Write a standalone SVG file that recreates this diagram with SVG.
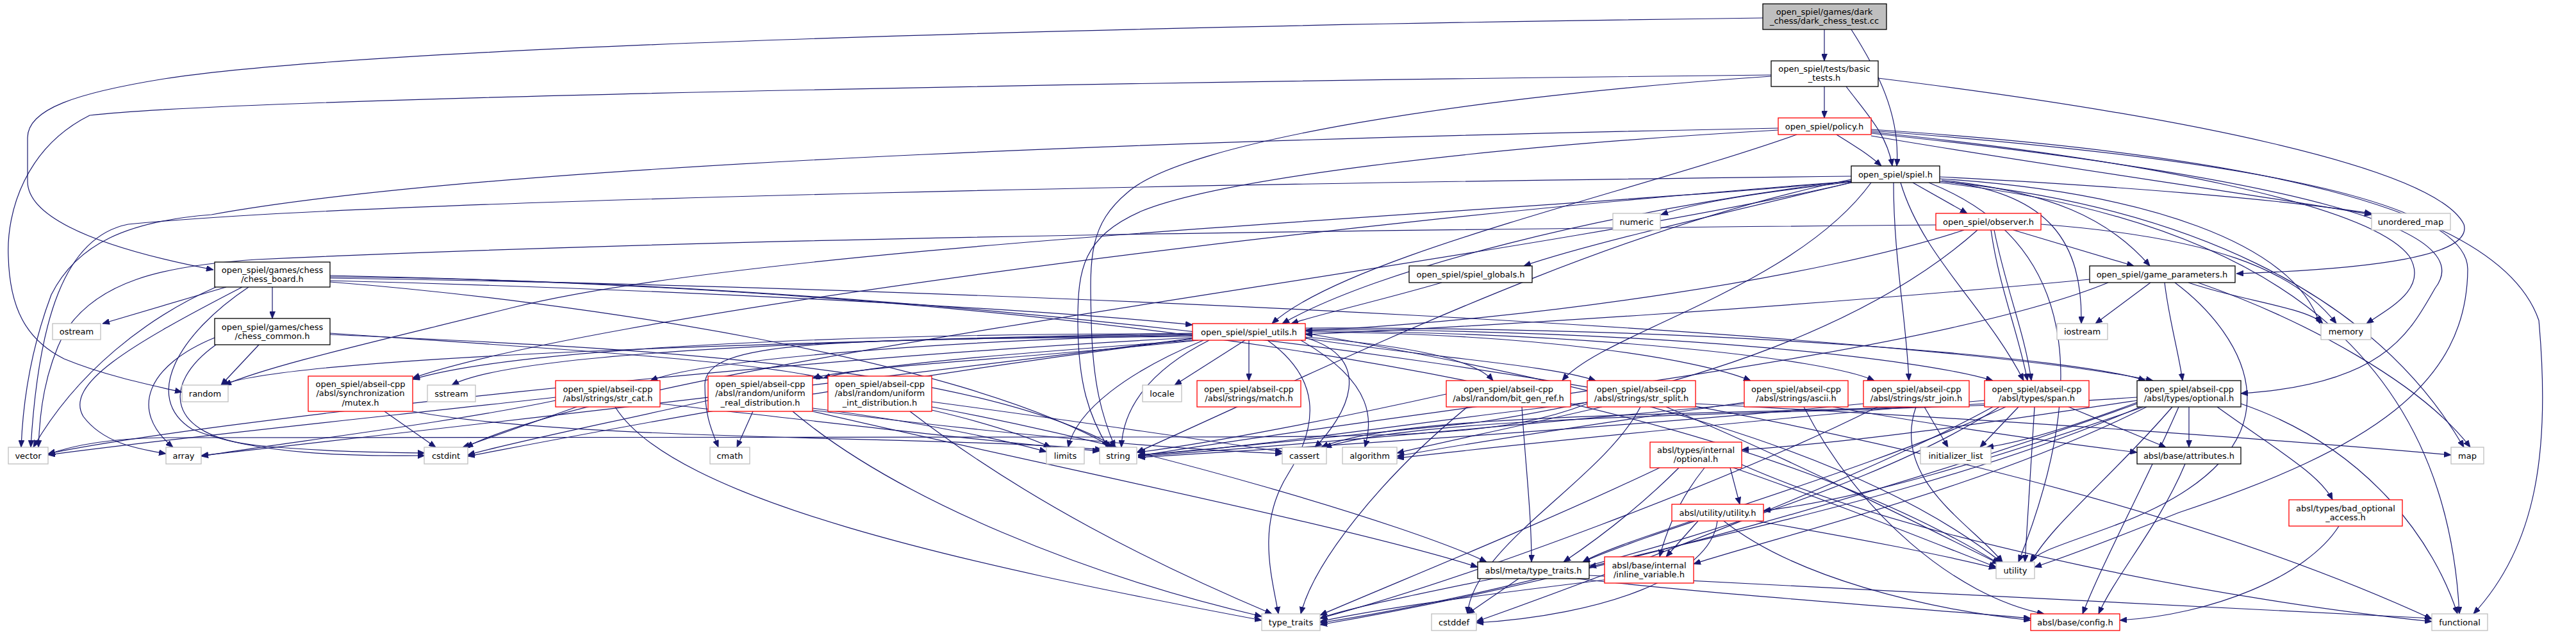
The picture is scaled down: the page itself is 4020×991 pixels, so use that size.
<svg xmlns="http://www.w3.org/2000/svg" width="4020" height="991" viewBox="0 0 4020 991">
<style>
text{font-family:"DejaVu Sans",sans-serif;font-size:13px;text-anchor:middle;fill:#000}
rect{fill:#fff;stroke-width:1.3}
.k{stroke:#000}
.r{stroke:#ff0000}
.g{stroke:#bfbfbf}
.f{stroke:#000;fill:#bfbfbf}
#edges path{fill:none;stroke:#191970;stroke-width:1.2;marker-end:url(#a)}
</style>
<defs>
<marker id="a" markerWidth="11" markerHeight="9" refX="11" refY="4.5" orient="auto" markerUnits="userSpaceOnUse"><path d="M0,0 L11,4.5 L0,9 z" fill="#191970" stroke="#191970" stroke-width="0.8"/></marker>
</defs>
<rect x="0" y="0" width="4020" height="991" fill="#fff" style="stroke:none"/>
<g id="edges">
<path d="M2847 46 L2847 95"/>
<path d="M2889 46 C2930 110 2966 180 2960 259"/>
<path d="M2751 28 C1800 40 600 70 256 123 C120 145 43 170 43 215 L43 283 C43 330 120 380 333 421"/>
<path d="M2847 135 L2847 184"/>
<path d="M2881 135 C2915 180 2945 210 2953 259"/>
<path d="M2931 122 C3400 180 3800 260 3845 350 C3860 400 3700 420 3490 427"/>
<path d="M2764 117 C2000 125 400 150 140 180 C40 230 10 330 13 400 C15 480 40 530 100 560 C160 585 230 600 284 612"/>
<path d="M2764 119 C2300 150 1850 220 1760 300 C1700 350 1700 400 1703 500 C1705 600 1720 650 1740 698"/>
<path d="M2866 210 C2890 225 2915 240 2936 259"/>
<path d="M2775 200 C2000 215 800 250 330 335 C200 345 120 380 80 460 C50 540 36 620 33 698"/>
<path d="M2775 203 C2300 230 1900 280 1780 330 C1690 370 1682 420 1682 500 C1682 600 1700 650 1729 698"/>
<path d="M2804 210 C2550 300 2100 400 1985 505"/>
<path d="M2920 212 C3200 260 3500 300 3701 335"/>
<path d="M2920 206 C3350 250 3700 320 3760 400 C3790 450 3730 480 3693 505"/>
<path d="M2920 208 C3600 280 3870 360 3800 450 C3760 520 3720 600 3497 614"/>
<path d="M2920 202 C3500 240 3900 320 3962 500 C3980 700 3960 850 3860 958"/>
<path d="M2920 204 C3400 240 3850 300 3851 420 C3850 600 3700 700 3400 800 C3300 840 3220 870 3175 885"/>
<path d="M2985 285 L3070 333"/>
<path d="M3027 276 C3300 290 3550 310 3701 333"/>
<path d="M3030 281 C3200 300 3290 340 3355 415"/>
<path d="M2889 284 C2750 300 2650 315 2592 335"/>
<path d="M2889 285 C2700 330 2480 380 2378 415"/>
<path d="M2889 282 C2500 330 2150 420 2001 505"/>
<path d="M3030 283 C3200 300 3250 380 3248 505"/>
<path d="M3027 279 C3350 300 3580 380 3620 505"/>
<path d="M3027 283 C3400 320 3700 450 3845 698"/>
<path d="M3027 285 C3600 350 3820 600 3838 958"/>
<path d="M3010 285 C3300 400 3220 700 3150 877"/>
<path d="M2889 280 C2500 360 2100 560 1774 706"/>
<path d="M2889 275 C2000 285 600 310 200 350 C100 370 60 500 48 698"/>
<path d="M2889 283 C2400 330 1200 380 800 480 C600 530 420 570 350 601"/>
<path d="M2889 285 C2300 420 1000 560 727 698"/>
<path d="M2920 285 C2800 450 2500 520 2438 594"/>
<path d="M2955 285 C2955 400 2975 500 2979 594"/>
<path d="M2889 283 C2000 350 900 500 644 590"/>
<path d="M2966 285 C3000 400 3100 480 3158 594"/>
<path d="M3142 359 L3330 415"/>
<path d="M3021 351 C2200 358 1200 368 400 405 C250 415 150 440 100 520 C70 580 62 640 60 698"/>
<path d="M3065 359 C2850 430 2400 500 2037 516"/>
<path d="M3086 359 C2950 480 2700 600 2300 660 C2000 690 1850 705 1776 710"/>
<path d="M3107 359 C3120 450 3150 520 3164 594"/>
<path d="M3112 359 C3130 450 3160 520 3170 594"/>
<path d="M3185 350 C3450 370 3580 420 3646 505"/>
<path d="M3261 436 C2800 480 2300 510 2037 522"/>
<path d="M3356 441 L3270 505"/>
<path d="M3415 441 C3500 470 3600 480 3625 505"/>
<path d="M3430 441 C3600 500 3780 600 3855 698"/>
<path d="M3378 441 C3385 500 3400 550 3406 594"/>
<path d="M3394 441 C3500 520 3620 700 3300 820 C3220 850 3180 860 3168 877"/>
<path d="M3290 441 C3000 560 2200 640 1776 712"/>
<path d="M2250 441 C2150 470 2060 490 2015 505"/>
<path d="M1943 531 L1833 601"/>
<path d="M1949 531 L1949 594"/>
<path d="M1878 531 C1760 580 1680 640 1667 698"/>
<path d="M1887 531 C1790 580 1752 640 1750 698"/>
<path d="M1978 531 C2060 590 2060 660 2010 740 C1960 820 1985 900 1995 958"/>
<path d="M2037 527 C2150 560 2100 650 2052 698"/>
<path d="M1861 520 C1300 530 800 550 705 601"/>
<path d="M1861 522 C1100 535 450 560 345 601"/>
<path d="M1861 527 C1200 560 300 660 75 708"/>
<path d="M1861 528 C1300 600 500 690 314 711"/>
<path d="M1861 529 C1300 600 900 680 730 712"/>
<path d="M1861 525 C1300 530 1100 530 1100 600 C1100 650 1110 670 1121 698"/>
<path d="M1861 521 C1300 520 800 545 644 592"/>
<path d="M1861 523 C1500 530 1100 560 1015 594"/>
<path d="M1870 531 C1600 560 1350 570 1268 590"/>
<path d="M1866 531 C1600 550 1350 570 1285 590"/>
<path d="M2037 526 C2200 540 2300 560 2330 594"/>
<path d="M2037 528 C2250 560 2420 570 2490 594"/>
<path d="M2037 518 C2400 520 2650 560 2732 594"/>
<path d="M2037 516 C2500 520 2850 560 2925 594"/>
<path d="M2037 514 C2600 515 3000 560 3110 594"/>
<path d="M2037 512 C2700 510 3250 560 3348 594"/>
<path d="M2030 531 C2150 600 2140 660 2130 698"/>
<path d="M2037 520 C2500 600 2900 700 3124 878"/>
<path d="M425 448 L425 497"/>
<path d="M353 448 L160 505"/>
<path d="M337 448 C230 495 120 580 52 698"/>
<path d="M378 448 C200 540 100 600 130 650 C160 690 210 700 259 708"/>
<path d="M388 448 C280 520 220 620 300 670 C400 710 550 712 663 711"/>
<path d="M515 438 C1000 450 1600 480 1861 507"/>
<path d="M515 440 C900 470 1500 560 1736 698"/>
<path d="M515 430 C1500 450 2600 560 3120 880"/>
<path d="M515 432 C1500 440 3000 600 3795 966"/>
<path d="M515 434 C1600 450 3000 520 3360 594"/>
<path d="M404 538 L345 601"/>
<path d="M335 527 C230 570 200 640 270 698"/>
<path d="M337 538 C250 600 260 680 400 695 C500 705 600 706 663 707"/>
<path d="M515 520 C800 540 1150 560 1285 590"/>
<path d="M515 522 C900 540 1500 560 1742 698"/>
<path d="M600 642 L680 698"/>
<path d="M644 642 C900 690 1500 680 1720 702"/>
<path d="M867 625 C700 660 450 690 314 712"/>
<path d="M900 635 L722 698"/>
<path d="M1030 630 C1300 660 1550 690 1716 704"/>
<path d="M960 635 C1050 780 1500 880 1969 968"/>
<path d="M867 620 C600 650 300 680 75 710"/>
<path d="M1175 642 L1150 698"/>
<path d="M1105 625 C950 660 800 690 730 710"/>
<path d="M1268 637 C1450 660 1580 690 1633 705"/>
<path d="M1268 640 C1500 670 1800 700 2001 708"/>
<path d="M1237 642 C1400 780 1700 900 1969 962"/>
<path d="M1268 642 C1600 720 2100 820 2306 885"/>
<path d="M1454 640 C1540 660 1600 680 1640 698"/>
<path d="M1454 627 C1700 660 1900 690 2001 705"/>
<path d="M1420 642 C1600 780 1800 880 1985 958"/>
<path d="M1454 635 C1800 700 2200 820 2320 877"/>
<path d="M2375 635 C2380 720 2390 800 2390 877"/>
<path d="M2290 635 C2150 750 2050 880 2030 958"/>
<path d="M2257 615 C2100 650 1900 690 1776 706"/>
<path d="M2500 635 C2350 670 2250 690 2180 707"/>
<path d="M2560 635 C2500 750 2300 850 2290 958"/>
<path d="M2646 630 C3200 660 3600 690 3825 710"/>
<path d="M2477 628 C2200 660 1950 700 1776 710"/>
<path d="M2600 635 C2800 720 3000 820 3120 880"/>
<path d="M2477 630 C2350 680 2200 682 1800 682 L250 683 C150 685 100 700 75 709"/>
<path d="M2722 628 C2500 660 2300 690 2180 712"/>
<path d="M2722 630 C2300 670 1950 700 1776 712"/>
<path d="M2860 635 C3000 660 3200 690 3335 706"/>
<path d="M2815 635 C2900 800 3050 930 3190 958"/>
<path d="M3003 635 L3040 698"/>
<path d="M2908 630 C2500 670 2000 700 1776 714"/>
<path d="M2930 635 C2700 750 2300 900 2060 965"/>
<path d="M2990 635 C2950 750 3080 820 3125 877"/>
<path d="M3097 625 C2800 650 2400 690 2180 715"/>
<path d="M3100 630 C2700 650 2200 640 2062 698"/>
<path d="M3110 635 C2900 750 2500 900 2304 970"/>
<path d="M3150 635 L3090 698"/>
<path d="M3120 635 C2900 780 2400 920 2060 972"/>
<path d="M3175 635 L3160 877"/>
<path d="M3228 635 L3380 698"/>
<path d="M3130 635 C2900 740 2600 820 2470 877"/>
<path d="M3416 635 L3416 698"/>
<path d="M3460 635 C3550 700 3620 740 3640 780"/>
<path d="M3390 635 C3300 740 3200 820 3170 877"/>
<path d="M3497 630 C3700 700 3800 850 3835 958"/>
<path d="M3400 635 C3350 750 3280 880 3250 958"/>
<path d="M3335 620 C2900 650 2250 640 2067 698"/>
<path d="M3335 628 C3250 660 3160 690 3100 698"/>
<path d="M3335 630 C3000 750 2500 900 2060 975"/>
<path d="M3350 635 C3100 760 2800 830 2643 880"/>
<path d="M3340 635 C3050 760 2700 830 2480 885"/>
<path d="M3335 625 C3100 660 2900 690 2718 702"/>
<path d="M3345 635 C3100 720 2900 780 2752 797"/>
<path d="M2700 730 L2715 787"/>
<path d="M2660 730 C2620 780 2600 830 2590 869"/>
<path d="M2620 730 C2550 800 2480 850 2440 877"/>
<path d="M2590 730 C2400 820 2200 900 2060 960"/>
<path d="M2705 730 C2850 780 3000 840 3115 885"/>
<path d="M2718 725 C3000 850 3500 940 3795 970"/>
<path d="M2640 813 C2560 840 2500 860 2470 877"/>
<path d="M2650 813 L2600 869"/>
<path d="M2740 813 C2900 840 3050 870 3115 887"/>
<path d="M2690 813 C2800 900 3000 950 3169 968"/>
<path d="M2680 813 C2670 900 2500 960 2304 972"/>
<path d="M2330 903 C2200 930 2100 950 2060 965"/>
<path d="M2370 903 L2290 958"/>
<path d="M2460 903 C2700 930 3000 950 3169 965"/>
<path d="M2480 898 C2900 920 3500 950 3795 965"/>
<path d="M2504 905 C2300 930 2150 950 2060 970"/>
<path d="M3410 724 C3370 820 3300 900 3275 958"/>
<path d="M3650 821 C3600 900 3450 960 3308 968"/>
</g>
<g id="n0"><rect class="f" x="2751" y="6" width="193" height="40"/><text x="2847" y="23">open_spiel/games/dark</text><text x="2847" y="37">_chess/dark_chess_test.cc</text></g>
<g id="n1"><rect class="k" x="2764" y="95" width="167" height="40"/><text x="2847" y="112">open_spiel/tests/basic</text><text x="2847" y="126">_tests.h</text></g>
<g id="n2"><rect class="r" x="2775" y="184" width="145" height="26"/><text x="2847" y="201.5">open_spiel/policy.h</text></g>
<g id="n3"><rect class="k" x="2889" y="259" width="138" height="26"/><text x="2958" y="276.5">open_spiel/spiel.h</text></g>
<g id="n4"><rect class="r" x="3021" y="333" width="164" height="26"/><text x="3103" y="350.5">open_spiel/observer.h</text></g>
<g id="n5"><rect class="g" x="3701" y="333" width="123" height="26"/><text x="3762" y="350.5">unordered_map</text></g>
<g id="n6"><rect class="k" x="3261" y="415" width="227" height="26"/><text x="3374" y="432.5">open_spiel/game_parameters.h</text></g>
<g id="n7"><rect class="g" x="2517" y="333" width="74" height="26"/><text x="2554" y="350.5">numeric</text></g>
<g id="n8"><rect class="k" x="2199" y="415" width="192" height="26"/><text x="2295" y="432.5">open_spiel/spiel_globals.h</text></g>
<g id="n9"><rect class="k" x="335" y="409" width="180" height="39"/><text x="425" y="425.5">open_spiel/games/chess</text><text x="425" y="439.5">/chess_board.h</text></g>
<g id="n10"><rect class="g" x="82" y="505" width="75" height="25"/><text x="119.5" y="522">ostream</text></g>
<g id="n11"><rect class="k" x="335" y="497" width="180" height="41"/><text x="425" y="514.5">open_spiel/games/chess</text><text x="425" y="528.5">/chess_common.h</text></g>
<g id="n12"><rect class="g" x="284" y="601" width="72" height="26"/><text x="320" y="618.5">random</text></g>
<g id="n13"><rect class="r" x="481" y="587" width="163" height="55"/><text x="562.5" y="603.5">open_spiel/abseil-cpp</text><text x="562.5" y="618">/absl/synchronization</text><text x="562.5" y="632.5">/mutex.h</text></g>
<g id="n14"><rect class="g" x="667" y="601" width="75" height="26"/><text x="704.5" y="618.5">sstream</text></g>
<g id="n15"><rect class="r" x="867" y="594" width="163" height="41"/><text x="948.5" y="611.5">open_spiel/abseil-cpp</text><text x="948.5" y="625.5">/absl/strings/str_cat.h</text></g>
<g id="n16"><rect class="r" x="1105" y="587" width="163" height="55"/><text x="1186.5" y="603.5">open_spiel/abseil-cpp</text><text x="1186.5" y="618">/absl/random/uniform</text><text x="1186.5" y="632.5">_real_distribution.h</text></g>
<g id="n17"><rect class="r" x="1292" y="587" width="162" height="55"/><text x="1373" y="603.5">open_spiel/abseil-cpp</text><text x="1373" y="618">/absl/random/uniform</text><text x="1373" y="632.5">_int_distribution.h</text></g>
<g id="n18"><rect class="g" x="13" y="698" width="62" height="26"/><text x="44" y="715.5">vector</text></g>
<g id="n19"><rect class="g" x="259" y="698" width="55" height="26"/><text x="286.5" y="715.5">array</text></g>
<g id="n20"><rect class="g" x="662" y="698" width="68" height="26"/><text x="696" y="715.5">cstdint</text></g>
<g id="n21"><rect class="g" x="1108" y="698" width="62" height="26"/><text x="1139" y="715.5">cmath</text></g>
<g id="n22"><rect class="r" x="1861" y="505" width="176" height="26"/><text x="1949" y="522.5">open_spiel/spiel_utils.h</text></g>
<g id="n23"><rect class="g" x="1783" y="601" width="61" height="26"/><text x="1813.5" y="618.5">locale</text></g>
<g id="n24"><rect class="r" x="1868" y="594" width="162" height="41"/><text x="1949" y="611.5">open_spiel/abseil-cpp</text><text x="1949" y="625.5">/absl/strings/match.h</text></g>
<g id="n25"><rect class="r" x="2257" y="594" width="194" height="41"/><text x="2354" y="611.5">open_spiel/abseil-cpp</text><text x="2354" y="625.5">/absl/random/bit_gen_ref.h</text></g>
<g id="n26"><rect class="r" x="2477" y="594" width="169" height="41"/><text x="2561.5" y="611.5">open_spiel/abseil-cpp</text><text x="2561.5" y="625.5">/absl/strings/str_split.h</text></g>
<g id="n27"><rect class="g" x="1633" y="698" width="59" height="26"/><text x="1662.5" y="715.5">limits</text></g>
<g id="n28"><rect class="g" x="1716" y="698" width="58" height="26"/><text x="1745" y="715.5">string</text></g>
<g id="n29"><rect class="g" x="2001" y="698" width="69" height="26"/><text x="2035.5" y="715.5">cassert</text></g>
<g id="n30"><rect class="g" x="2095" y="698" width="85" height="26"/><text x="2137.5" y="715.5">algorithm</text></g>
<g id="n31"><rect class="r" x="2575" y="690" width="143" height="40"/><text x="2646.5" y="707">absl/types/internal</text><text x="2646.5" y="721">/optional.h</text></g>
<g id="n32"><rect class="r" x="2609" y="787" width="143" height="26"/><text x="2680.5" y="804.5">absl/utility/utility.h</text></g>
<g id="n33"><rect class="k" x="2306" y="877" width="174" height="26"/><text x="2393" y="894.5">absl/meta/type_traits.h</text></g>
<g id="n34"><rect class="r" x="2504" y="869" width="139" height="41"/><text x="2573.5" y="886.5">absl/base/internal</text><text x="2573.5" y="900.5">/inline_variable.h</text></g>
<g id="n35"><rect class="g" x="1969" y="958" width="91" height="26"/><text x="2014.5" y="975.5">type_traits</text></g>
<g id="n36"><rect class="g" x="2234" y="958" width="70" height="26"/><text x="2269" y="975.5">cstddef</text></g>
<g id="n37"><rect class="g" x="3210" y="505" width="79" height="25"/><text x="3249.5" y="522">iostream</text></g>
<g id="n38"><rect class="g" x="3622" y="505" width="78" height="25"/><text x="3661" y="522">memory</text></g>
<g id="n39"><rect class="r" x="2722" y="594" width="162" height="41"/><text x="2803" y="611.5">open_spiel/abseil-cpp</text><text x="2803" y="625.5">/absl/strings/ascii.h</text></g>
<g id="n40"><rect class="r" x="2908" y="594" width="165" height="41"/><text x="2990.5" y="611.5">open_spiel/abseil-cpp</text><text x="2990.5" y="625.5">/absl/strings/str_join.h</text></g>
<g id="n41"><rect class="r" x="3097" y="594" width="163" height="41"/><text x="3178.5" y="611.5">open_spiel/abseil-cpp</text><text x="3178.5" y="625.5">/absl/types/span.h</text></g>
<g id="n42"><rect class="k" x="3335" y="594" width="162" height="41"/><text x="3416" y="611.5">open_spiel/abseil-cpp</text><text x="3416" y="625.5">/absl/types/optional.h</text></g>
<g id="n43"><rect class="g" x="2997" y="698" width="110" height="26"/><text x="3052" y="715.5">initializer_list</text></g>
<g id="n44"><rect class="k" x="3335" y="698" width="162" height="26"/><text x="3416" y="715.5">absl/base/attributes.h</text></g>
<g id="n45"><rect class="g" x="3825" y="698" width="51" height="26"/><text x="3850.5" y="715.5">map</text></g>
<g id="n46"><rect class="r" x="3572" y="780" width="177" height="41"/><text x="3660.5" y="797.5">absl/types/bad_optional</text><text x="3660.5" y="811.5">_access.h</text></g>
<g id="n47"><rect class="g" x="3115" y="877" width="60" height="26"/><text x="3145" y="894.5">utility</text></g>
<g id="n48"><rect class="r" x="3169" y="958" width="139" height="26"/><text x="3238.5" y="975.5">absl/base/config.h</text></g>
<g id="n49"><rect class="g" x="3795" y="958" width="87" height="26"/><text x="3838.5" y="975.5">functional</text></g>
</svg>
